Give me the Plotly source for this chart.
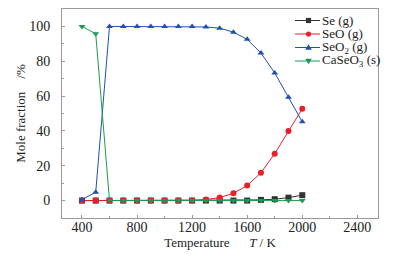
import plotly.graph_objects as go

temperature = [400, 500, 600, 700, 800, 900, 1000, 1100, 1200, 1300, 1400, 1500, 1600, 1700, 1800, 1900, 2000]
se_g = [0, 0, 0, 0, 0, 0, 0, 0, 0, 0, 0, 0, 0, 0.4, 0.8, 1.7, 3.1]
seo_g = [0, 0, 0, 0, 0, 0, 0, 0, 0.1, 0.6, 1.7, 4.2, 8.6, 16.0, 26.9, 39.9, 52.7]
seo2_g = [0.5, 4.8, 100, 100, 100, 100, 100, 100, 100, 99.7, 99.0, 96.7, 92.6, 84.7, 73.3, 59.4, 45.2]
caseo3_s = [100, 95.8, 0, 0, 0, 0, 0, 0, 0, 0, 0, 0, 0, 0, 0, 0, 0]

series_names = ["Se (g)", "SeO (g)", "SeO<sub>2</sub> (g)", "CaSeO<sub>3</sub> (s)"]
series_vals = [se_g, seo_g, seo2_g, caseo3_s]
colors = ["#333333", "#e8202a", "#2150b4", "#1a9a55"]
symbols = ["square", "circle", "triangle-up", "triangle-down"]

x_ticks = [400, 800, 1200, 1600, 2000, 2400]
y_ticks = [0, 20, 40, 60, 80, 100]

font = "Liberation Serif, Times New Roman, serif"
# page body has an 8px default margin; figure sized to fit the window
OFF = 8
W, H = 396 - OFF, 262 - OFF
ML, MR, MT, MB = 62 - OFF, 18, 9 - OFF, 44
PW, PH = W - ML - MR, H - MT - MB

fig = go.Figure()
for name, vals, c, s in zip(series_names, series_vals, colors, symbols):
    fig.add_trace(go.Scatter(
        x=temperature, y=vals, name=name, mode="lines+markers",
        line=dict(color=c, width=1),
        marker=dict(symbol=s, size=6, color=c),
        showlegend=False,
    ))

# custom compact legend (keys + labels); positions given in window pixels
def px_x(p):
    return (p - OFF - ML) / PW

def px_y(p):
    return (H - MB - (p - OFF)) / PH

shapes = []
annotations = []
leg_x0, leg_x1, leg_text = 295, 320, 320
leg_y0, leg_dy = 20.5, 13.5
for i, (name, c, s) in enumerate(zip(series_names, colors, symbols)):
    yy = leg_y0 + i * leg_dy
    xm = (leg_x0 + leg_x1) / 2 + 1
    shapes.append(dict(type="line", xref="paper", yref="paper",
                       x0=px_x(leg_x0), x1=px_x(leg_x1), y0=px_y(yy), y1=px_y(yy),
                       line=dict(color=c, width=1)))
    r = 2.6
    if s == "square":
        shapes.append(dict(type="rect", xref="paper", yref="paper",
                           x0=px_x(xm - r), x1=px_x(xm + r), y0=px_y(yy + r), y1=px_y(yy - r),
                           fillcolor=c, line=dict(width=0)))
    elif s == "circle":
        shapes.append(dict(type="circle", xref="paper", yref="paper",
                           x0=px_x(xm - r), x1=px_x(xm + r), y0=px_y(yy + r), y1=px_y(yy - r),
                           fillcolor=c, line=dict(width=0)))
    else:
        sgn = -1 if s == "triangle-up" else 1
        pts = [(xm - 3.3, yy - sgn * 2.3), (xm + 3.3, yy - sgn * 2.3), (xm, yy + sgn * 3.2)]
        path = "M {} {} L {} {} L {} {} Z".format(
            px_x(pts[0][0]), px_y(pts[0][1]), px_x(pts[1][0]), px_y(pts[1][1]),
            px_x(pts[2][0]), px_y(pts[2][1]))
        shapes.append(dict(type="path", xref="paper", yref="paper", path=path,
                           fillcolor=c, line=dict(width=0)))
    annotations.append(dict(text=name, xref="paper", yref="paper",
                            x=px_x(leg_text), y=px_y(yy), xanchor="left", yanchor="middle",
                            showarrow=False, font=dict(family=font, size=13, color="#222222")))

axis_common = dict(
    showline=True, mirror=True, linecolor="#999999", linewidth=1,
    ticks="inside", ticklen=3, tickcolor="#999999",
    showgrid=False, zeroline=False,
    tickfont=dict(family=font, size=14, color="#222222"),
)

NB = "\u00a0"
fig.update_layout(
    width=W, height=H,
    margin=dict(l=ML, r=MR, t=MT, b=MB, autoexpand=False),
    paper_bgcolor="white", plot_bgcolor="white",
    font=dict(family=font, size=13, color="#222222"),
    showlegend=False,
    shapes=shapes,
    annotations=annotations,
    xaxis=dict(
        range=[255, 2550], tickvals=x_ticks,
        minor=dict(ticks="inside", ticklen=2, tickcolor="#999999", dtick=200, tick0=0),
        title=dict(text="Temperature" + NB * 6 + "<i>T</i> / K",
                   font=dict(family=font, size=13), standoff=0),
        ticklabelstandoff=-4,
        **axis_common,
    ),
    yaxis=dict(
        range=[-10, 110], tickvals=y_ticks,
        minor=dict(ticks="inside", ticklen=2, tickcolor="#999999", dtick=10, tick0=0),
        title=dict(text=NB * 3 + "Mole fraction" + NB * 4 + "/%",
                   font=dict(family=font, size=13), standoff=0),
        ticklabelstandoff=8,
        **axis_common,
    ),
)

fig.write_html("out.html")
